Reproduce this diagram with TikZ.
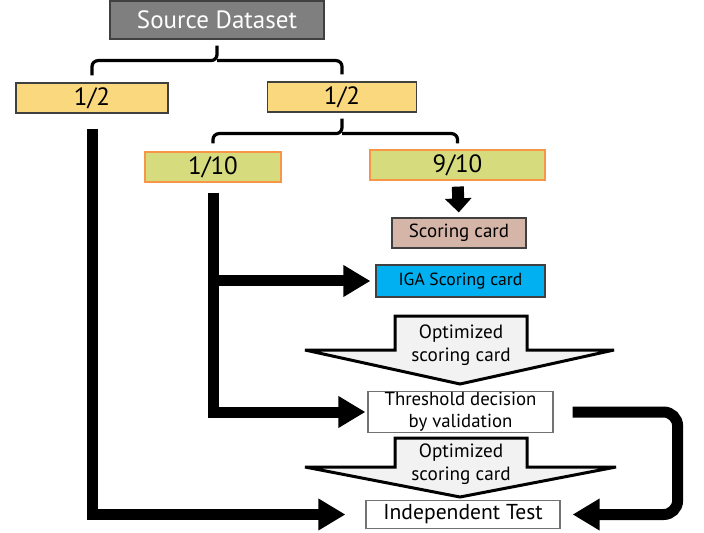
\documentclass[tikz,border=0pt]{standalone}
\usepackage{fontspec}
\setmainfont{PT Sans}
\usetikzlibrary{arrows.meta}
\definecolor{srcgray}{RGB}{127,127,127}
\definecolor{halfyellow}{RGB}{250,216,125}
\definecolor{partgreen}{RGB}{214,220,126}
\definecolor{partedge}{RGB}{247,150,70}
\definecolor{cardbrown}{RGB}{212,181,168}
\definecolor{igablue}{RGB}{0,176,240}
\definecolor{bigarrow}{RGB}{242,242,242}

\begin{document}
\begin{tikzpicture}[x=0.5pt,y=-0.5pt,
        box/.style={draw=black!75,line width=0.6pt,inner sep=0pt,align=center,minimum height=15pt},
        flow/.style={line width=5.5pt,-{Triangle[length=13.5pt,width=15pt]}},
        brace/.style={line width=1.6pt,rounded corners=3pt},
        bigarr/.style={fill=bigarrow,draw=black,line width=1.5pt,line join=miter,miter limit=3}]
        \useasboundingbox (0,0) rectangle (704,533);

        \node[box,fill=srcgray,text=white,minimum width=107pt,minimum height=19pt,font=\fontsize{12.5}{14}\selectfont] (src) at (217,20) {Source Dataset};
        \node[box,fill=halfyellow,minimum width=76pt,font=\fontsize{12.5}{14}\selectfont] (halfL) at (92,98) {1/2};
        \node[box,fill=halfyellow,minimum width=74.5pt,font=\fontsize{12.5}{14}\selectfont] (halfR) at (342,97) {1/2};
        \node[box,fill=partgreen,draw=partedge,minimum width=68pt,font=\fontsize{12.5}{14}\selectfont] (tenth) at (213,167) {1/10};
        \node[box,fill=partgreen,draw=partedge,minimum width=87.5pt,font=\fontsize{12.5}{14}\selectfont] (nine) at (457.5,165) {9/10};
        \node[box,fill=cardbrown,minimum width=67pt,font=\fontsize{9.5}{11}\selectfont] (score) at (459,233) {Scoring card};
        \node[box,fill=igablue,minimum width=84.5pt,minimum height=16pt,font=\fontsize{8.8}{11}\selectfont] (iga) at (460.5,281) {IGA Scoring card};
        \node[box,draw=black!55,fill=white,minimum width=92.5pt,minimum height=20.5pt,font=\fontsize{9.4}{11}\selectfont] (thresh) at (460.5,412) {Threshold decision\\by validation};
        \node[box,draw=black!55,fill=white,minimum width=97pt,minimum height=14pt,font=\fontsize{10.8}{12}\selectfont] (indep) at (463,514.5) {Independent Test};

        \draw[brace] ([yshift=3.5pt]halfL.north) |- ([yshift=-10.5pt]src.south) -- ++(0,-15);
        \draw[brace] ([yshift=-10.5pt]src.south) -| ([yshift=3.5pt]halfR.north);
        \draw[brace] ([yshift=4pt]tenth.north) |- ([yshift=-10.5pt]halfR.south) -- ++(0,-15);
        \draw[brace] ([yshift=-10.5pt]halfR.south) -| ([yshift=3pt]nine.north);

        \draw[bigarr] (395,316) -- (527,316) -- (527,350) -- (614,350) -- (460,384) -- (305,350) -- (395,350) -- cycle;
        \draw[bigarr] (395,438) -- (527,438) -- (527,467) -- (616,467) -- (460,497) -- (305,467) -- (395,467) -- cycle;
        \node[align=center,font=\fontsize{9.6}{11.5}\selectfont] (opt1) at (461,345) {Optimized\\scoring card};
        \node[align=center,font=\fontsize{9.6}{11.5}\selectfont] (opt2) at (461,464) {Optimized\\scoring card};

        \draw[flow,shorten <=7.5pt,shorten >=10pt] (halfL.south) |- (indep.west);
        \draw[flow,shorten <=5pt,shorten >=1pt] (tenth.south) |- (thresh.west);
        \draw[flow,shorten >=2.5pt] (tenth.south |- iga.west) -- (iga.west);
        \draw[line width=6pt,-{Triangle[length=7pt,width=13pt]},shorten <=3pt,shorten >=2.5pt] (nine.south) -- (score.north);
        \draw[flow,rounded corners=7pt,shorten <=9.5pt,shorten >=6pt] (thresh.east) -- ++(124,0) |- (indep.east);
    \end{tikzpicture}
\end{document}
